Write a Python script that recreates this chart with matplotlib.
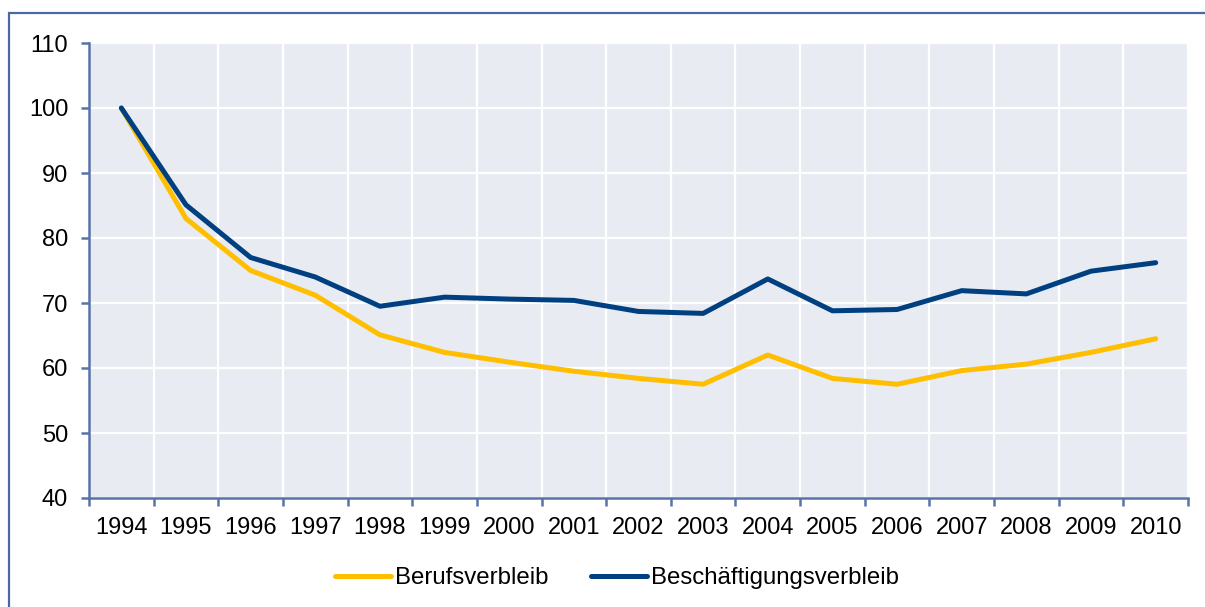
import matplotlib
matplotlib.use("Agg")
import matplotlib.pyplot as plt
from matplotlib.patches import Rectangle

plt.rcParams['font.family'] = ['Liberation Sans', 'DejaVu Sans']

years = ['1994', '1995', '1996', '1997', '1998', '1999', '2000', '2001', '2002',
         '2003', '2004', '2005', '2006', '2007', '2008', '2009', '2010']
berufsverbleib = [100, 83.0, 75.0, 71.2, 65.1, 62.4, 60.9, 59.5, 58.4,
                  57.5, 62.0, 58.4, 57.5, 59.6, 60.6, 62.4, 64.5]
beschaeftigungsverbleib = [100, 85.1, 77.0, 74.0, 69.5, 70.9, 70.6, 70.4, 68.7,
                           68.4, 73.7, 68.8, 69.0, 71.9, 71.4, 74.9, 76.2]
yticks = [40, 50, 60, 70, 80, 90, 100, 110]

YELLOW = '#FFBE00'
BLUE = '#004080'
AXIS = '#5873A8'
FS = 17

W, H = 1205, 607
fig = plt.figure(figsize=(W / 100, H / 100), dpi=100)

# outer frame of the chart box (runs off the right and bottom edge)
fig.patches.append(Rectangle((9 / W, -0.1), 1.2, 1.1 - 13 / H,
                             transform=fig.transFigure, fill=False,
                             edgecolor='#4A69A0', linewidth=1.6))

ax = fig.add_axes([89 / W, 1 - 498 / H, (1188 - 89) / W, (498 - 43) / H])
ax.set_facecolor('#E8EBF2')

x = list(range(len(years)))
ax.plot(x, berufsverbleib, color=YELLOW, lw=3.6, solid_capstyle='round',
        solid_joinstyle='round', label='Berufsverbleib', zorder=3)
ax.plot(x, beschaeftigungsverbleib, color=BLUE, lw=3.6, solid_capstyle='round',
        solid_joinstyle='round', label='Beschäftigungsverbleib', zorder=3)

ax.set_xlim(-0.5, len(years) - 0.5)
ax.set_ylim(40, 110)
ax.set_yticks(yticks)
ax.set_xticks(x)
ax.set_xticklabels(years)
ax.set_xticks([i - 0.5 for i in range(len(years) + 1)], minor=True)

ax.grid(True, which='major', axis='y', color='white', lw=1.6, zorder=0)
ax.grid(True, which='minor', axis='x', color='white', lw=1.6, zorder=0)
ax.set_axisbelow(True)

for s in ['top', 'right']:
    ax.spines[s].set_visible(False)
for s in ['left', 'bottom']:
    ax.spines[s].set_color(AXIS)
    ax.spines[s].set_linewidth(1.8)

ax.tick_params(axis='x', which='major', length=0, pad=14, labelsize=FS)
ax.tick_params(axis='x', which='minor', length=6, width=1.8, color=AXIS, direction='out')
ax.tick_params(axis='y', length=6, width=1.8, color=AXIS, direction='out', pad=9,
               labelsize=FS)

fig.legend(loc='center', bbox_to_anchor=(617 / W, 1 - 578 / H), ncol=2, frameon=False,
           fontsize=17.3, handlelength=2.3, handletextpad=0.17, columnspacing=1.8)

fig.savefig('out.png', dpi=100)
